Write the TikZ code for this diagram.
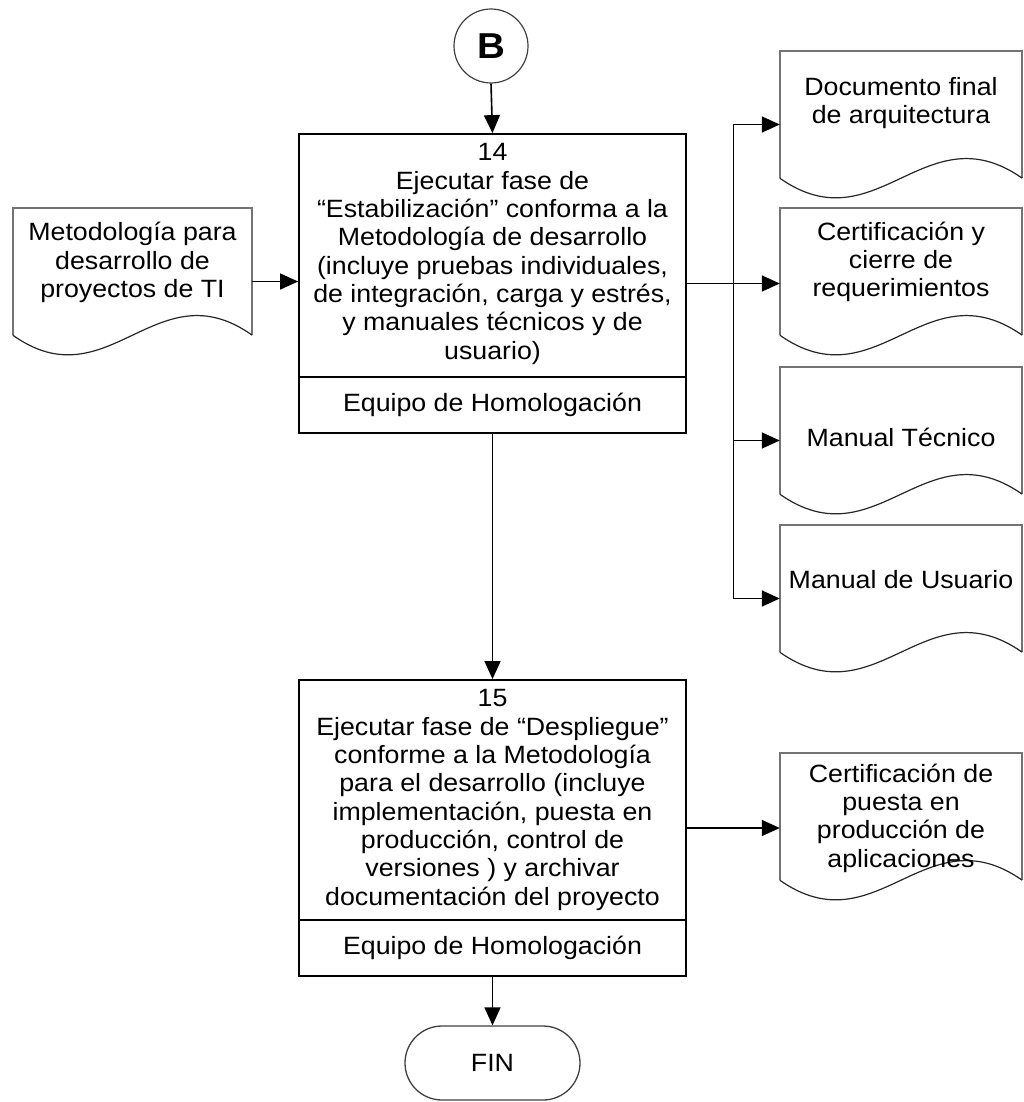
\documentclass[tikz,border=0pt]{standalone}
\usepackage{fontspec}
\setmainfont{Liberation Sans}[FakeStretch=1.07]
\usetikzlibrary{arrows.meta,calc}

% document symbol: straight top and sides, wavy bottom
\newcommand\docshape[1]{%
  \draw[docedge] ([yshift=20pt]#1.south west) -- (#1.north west) -- (#1.north east) -- ([yshift=20pt]#1.south east);
  \draw[docwave] ([yshift=20pt]#1.south west)
    .. controls ($(#1.south west)!0.4!(#1.south east)+(0pt,-48pt)$)
    and ($(#1.south west)!0.6!(#1.south east)+(0pt,88pt)$)
    .. ([yshift=20pt]#1.south east);
}

\begin{document}
\begin{tikzpicture}[x=1pt,y=-1pt,
  txt/.style={font=\fontsize{25}{28.3}\selectfont, align=center, inner sep=0pt, text=black},
  docbox/.style={minimum width=242pt, minimum height=147pt, inner sep=0pt},
  docedge/.style={draw=black!55, line width=1.5pt},
  docwave/.style={draw=black!85, line width=1.2pt},
  procbox/.style={draw=black, line width=1.8pt, minimum width=387pt, inner sep=0pt},
  arr/.style={draw=black, line width=1.6pt, -{Triangle[length=18pt,width=16pt]}},
  ln/.style={draw=black, line width=1.6pt}]
\useasboundingbox (0,0) rectangle (1024,1102);

% connector B
\node[circle, draw=black!75, line width=1.2pt, minimum size=74pt, inner sep=0pt,
      font=\fontsize{36}{36}\selectfont\bfseries] (B) at (491,46) {B};

% activity 14
\node[procbox, minimum height=299pt] (p14) at (492.5,283.5) {};
\draw[ln] (p14.west |- 0,377) -- (p14.east |- 0,377);
\node[txt] (p14t) at (492.5,254) {14\\Ejecutar fase de\\“Estabilización” conforma a la\\Metodología de desarrollo\\(incluye pruebas individuales,\\de integración, carga y estrés,\\y manuales técnicos y de\\usuario)};
\node[txt] (p14r) at (492.5,405) {Equipo de Homologación};

% activity 15
\node[procbox, minimum height=296pt] (p15) at (492.5,828) {};
\draw[ln] (p15.west |- 0,920) -- (p15.east |- 0,920);
\node[txt] (p15t) at (492.5,800) {15\\Ejecutar fase de “Despliegue”\\conforme a la Metodología\\para el desarrollo (incluye\\implementación, puesta en\\producción, control de\\versiones ) y archivar\\documentación del proyecto};
\node[txt] (p15r) at (492.5,948) {Equipo de Homologación};

% terminator
\node[txt, draw=black!75, line width=1.3pt, rounded corners=37pt,
      minimum width=175pt, minimum height=74pt] (fin) at (492.5,1063) {FIN};

% input document
\node[docbox, minimum width=239pt] (m) at (132.5,281.5) {};
\docshape{m}
\node[txt] (mt) at (132.5,262.5) {Metodología para\\desarrollo de\\proyectos de TI};

% output documents
\node[docbox] (d1) at (901,124.5) {};
\docshape{d1}
\node[txt] (d1t) at (901,103) {Documento final\\de arquitectura};

\node[docbox] (d2) at (901,281.5) {};
\docshape{d2}
\node[txt] (d2t) at (901,262) {Certificación y\\cierre de\\requerimientos};

\node[docbox] (d3) at (901,440.5) {};
\docshape{d3}
\node[txt] (d3t) at (901,437) {Manual Técnico};

\node[docbox] (d4) at (901,598.5) {};
\docshape{d4}
\node[txt] (d4t) at (901,580) {Manual de Usuario};

\node[docbox] (d5) at (901,826.5) {};
\docshape{d5}
\node[txt] (d5t) at (901,818) {Certificación de\\puesta en\\producción de\\aplicaciones};

% flow
\draw[arr] (B.south) -- (p14.north);
\draw[arr] (m.east) -- (m.east -| p14.west);
\draw[arr] (p14.east) -- (p14.east -| d2.west);
\coordinate (j) at ($(p14.east)!0.5!(p14.east -| d2.west)$);
\draw[arr] (j) |- (d1.west);
\draw[arr] (j) |- (d3.west);
\draw[arr] (j) |- (d4.west);
\draw[arr] (p14.south) -- (p15.north);
\draw[arr] (p15.east) -- (p15.east -| d5.west);
\draw[arr] (p15.south) -- (fin.north);
\end{tikzpicture}
\end{document}
